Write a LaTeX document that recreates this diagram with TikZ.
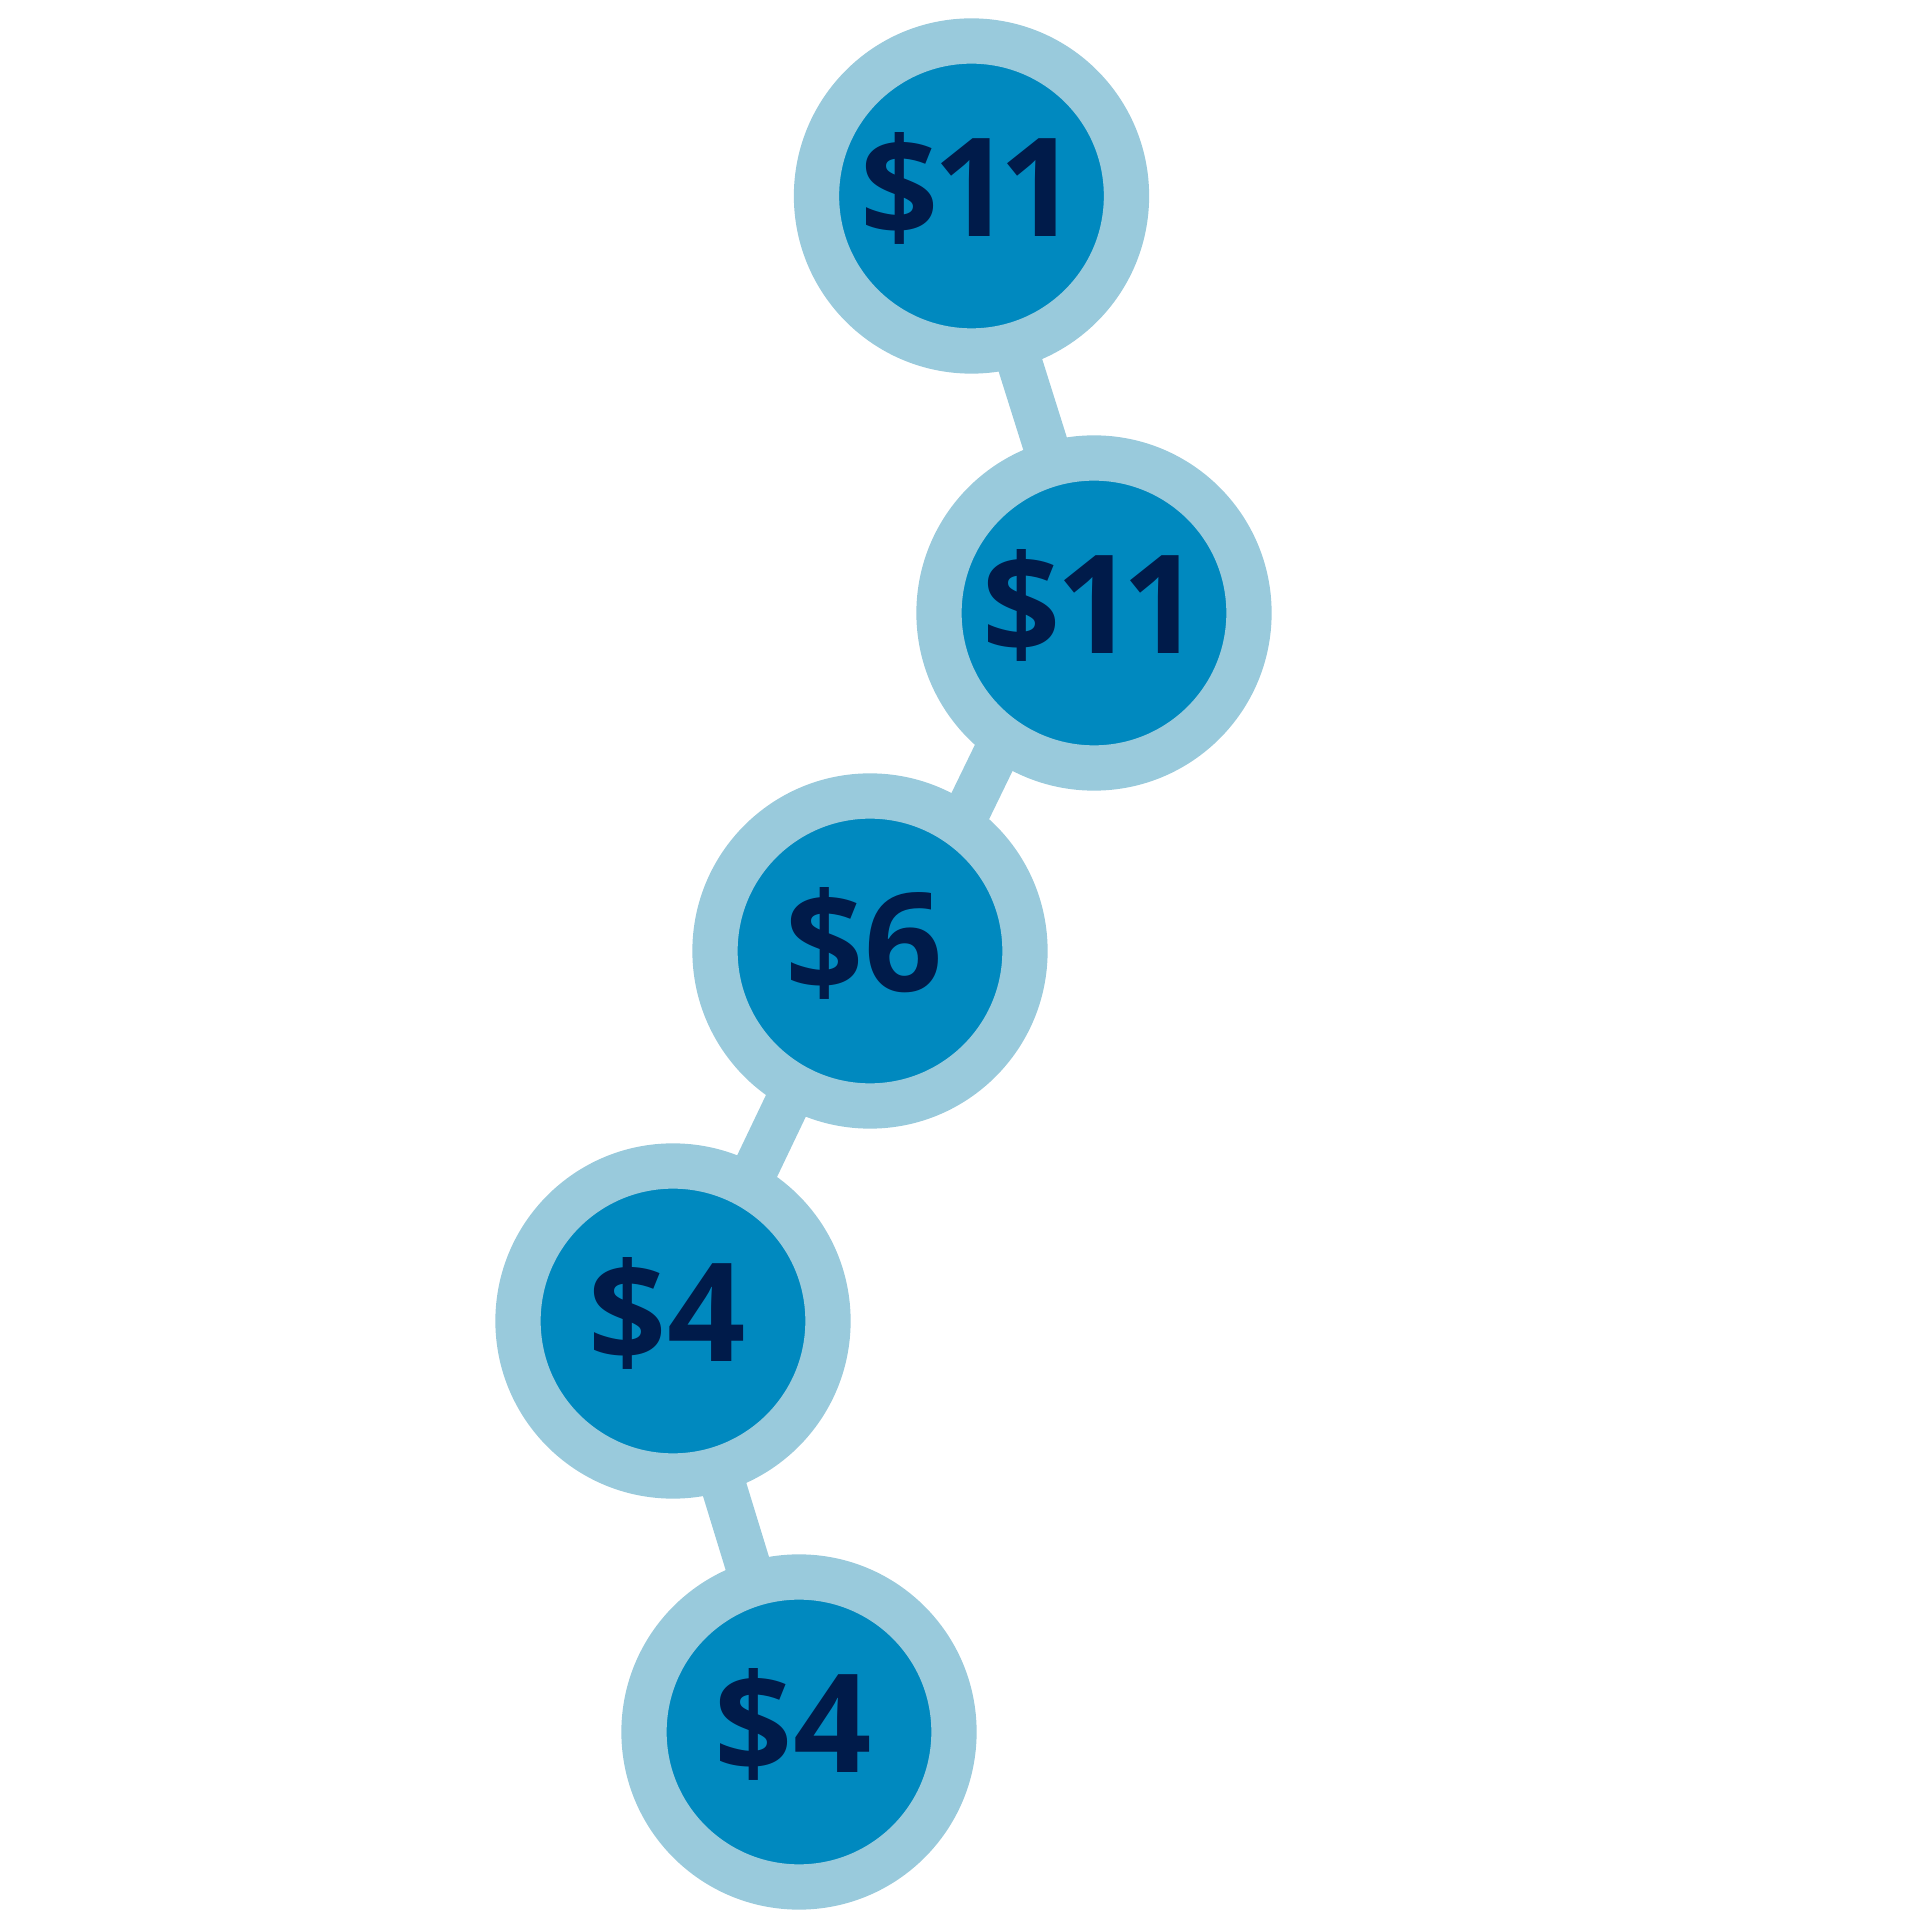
\documentclass[tikz,border=0pt]{standalone}
\usepackage{fontspec}
\setmainfont[Numbers=Proportional]{Open Sans}
\usetikzlibrary{backgrounds, calc}

\definecolor{ringblue}{HTML}{99CADC}
\definecolor{coreblue}{HTML}{0089BF}
\definecolor{inknavy}{HTML}{001B4A}

\begin{document}
\begin{tikzpicture}[
  coin/.style={circle, minimum size=3.1cm, inner sep=0pt,
    draw=ringblue, line width=0.453cm, fill=coreblue,
    text=inknavy, font=\fontsize{39}{46}\selectfont\bfseries,
    text height=1.0cm, text depth=0.19cm,
    execute at end node=\hspace{0.12cm}},
  link/.style={draw=ringblue, line width=0.453cm},
]

% Page frame
\useasboundingbox (0, 0) rectangle (19.21, 19.21);

% Price coins
\node[coin] (p1) at (9.715, 17.25) {\$11};
\node[coin] (p2) at (10.94, 13.08) {\$11};
\node[coin] (p3) at (8.70, 9.70) {\$6};
\node[coin] (p4) at (6.73, 6.00) {\$4};
\node[coin] (p5) at (7.99, 1.89) {\$4};

% Links behind the coins (turned a little about their midpoints)
\begin{scope}[on background layer]
  \draw[link] ($(p1)!0.5!(p2)!1!1.1:(p1)$) -- ($(p1)!0.5!(p2)!1!1.1:(p2)$);
  \draw[link] ($(p2)!0.5!(p3)!1!7.6:(p2)$) -- ($(p2)!0.5!(p3)!1!7.6:(p3)$);
  \draw[link] ($(p3)!0.5!(p4)!1!2.5:(p3)$) -- ($(p3)!0.5!(p4)!1!2.5:(p4)$);
  \draw[link] (p4.center) -- (p5.center);
\end{scope}

\end{tikzpicture}
\end{document}
